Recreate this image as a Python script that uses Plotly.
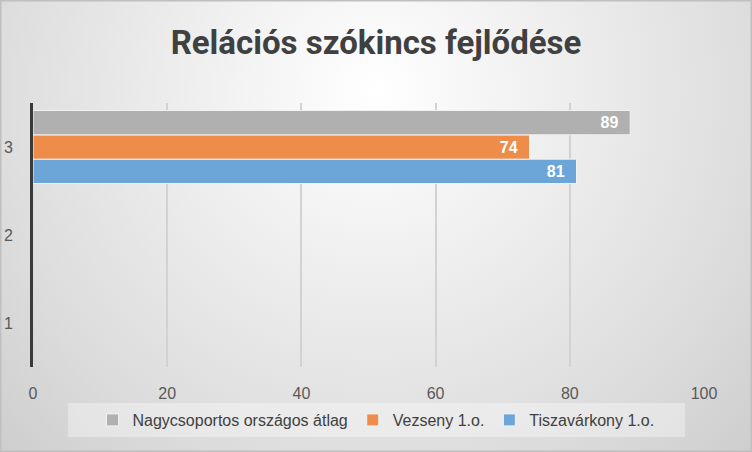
import base64
import plotly.graph_objects as go

categories = ["1", "2", "3"]
series_names = ["Tiszavárkony 1.o.", "Vezseny 1.o.", "Nagycsoportos országos átlag"]
tisza = [None, None, 81]
vezseny = [None, None, 74]
orszagos = [None, None, 89]
values = [tisza, vezseny, orszagos]
colors = ["#6CA5D8", "#EE8C4A", "#B0B0B0"]
x_ticks = [0, 20, 40, 60, 80, 100]
title = "Relációs szókincs fejlődése"

W, H = 752, 452
L, R, T, B = 33, 48, 103, 85
pw, ph = W - L - R, H - T - B

svg = f'''<svg xmlns="http://www.w3.org/2000/svg" width="{W}" height="{H}" viewBox="0 0 {W} {H}" preserveAspectRatio="none">
<defs><radialGradient id="g" cx="376" cy="90" r="520" gradientUnits="userSpaceOnUse">
<stop offset="0" stop-color="#ffffff"/><stop offset="0.75" stop-color="#dcdcdc"/><stop offset="1" stop-color="#cecece"/></radialGradient></defs>
<rect width="{W}" height="{H}" fill="url(#g)"/>
<rect x="0.75" y="0.75" width="{W-1.5}" height="{H-1.5}" fill="none" stroke="#bfbfbf" stroke-width="1.5"/>
</svg>'''
bg = "data:image/svg+xml;base64," + base64.b64encode(svg.encode()).decode()

NB = "\u00a0"

fig = go.Figure()
for name, vals, col in zip(series_names, values, colors):
    fig.add_trace(go.Bar(
        y=categories, x=vals, name=name, orientation="h",
        marker=dict(color=col, line=dict(color="#f2f2f2", width=1)),
        text=[f"<b>{v}</b>{NB}{NB}" if v is not None else "" for v in vals],
        textposition="inside", insidetextanchor="end",
        textfont=dict(color="white", size=16, family="Liberation Sans"),
        cliponaxis=False,
    ))

def py(pix):
    # pixel row -> paper y
    return (T + ph - pix) / ph

fig.update_layout(
    width=W, height=H,
    margin=dict(l=L, r=R, t=T, b=B, autoexpand=False),
    paper_bgcolor="#e2e2e2", plot_bgcolor="rgba(0,0,0,0)",
    barmode="group", bargap=0.17, bargroupgap=0,
    title=dict(text=f"<b>{title}</b>", x=0.5, xanchor="center", y=1 - 42 / H, yanchor="middle",
               font=dict(family="Roboto", size=33, color="#404040")),
    showlegend=True,
    legend=dict(orientation="h", x=(376 - L) / pw, xanchor="center", y=py(420),
                yanchor="middle", traceorder="reversed", bgcolor="rgba(0,0,0,0)",
                font=dict(family="Liberation Sans", size=16, color="#404040"), itemwidth=30),
    images=[dict(source=bg, xref="paper", yref="paper", x=-L / pw, y=1 + T / ph,
                 sizex=W / pw, sizey=H / ph, sizing="stretch", layer="below", xanchor="left", yanchor="top")],
    shapes=[dict(type="rect", xref="paper", yref="paper",
                 x0=(68 - L) / pw, x1=(685 - L) / pw, y0=py(437), y1=py(403),
                 fillcolor="rgba(255,255,255,0.35)", line=dict(width=0), layer="below")],
    xaxis=dict(range=[0, 100], tickvals=x_ticks, showgrid=True, gridcolor="#d2d2d2", gridwidth=2,
               zeroline=False, showline=False, ticks="", automargin=False, ticklabelstandoff=15,
               tickfont=dict(family="Liberation Sans", size=16, color="#595959")),
    yaxis=dict(type="category", categoryarray=categories, range=[-0.5, 2.5], showgrid=False,
               showline=True, linecolor="#3a3a3a", linewidth=3, ticks="", zeroline=False,
               automargin=False, ticklabelstandoff=14,
               tickfont=dict(family="Liberation Sans", size=16, color="#595959")),
)

fig.write_html("out.html", config={"displayModeBar": False},
               post_script="document.body.style.margin='0';")
